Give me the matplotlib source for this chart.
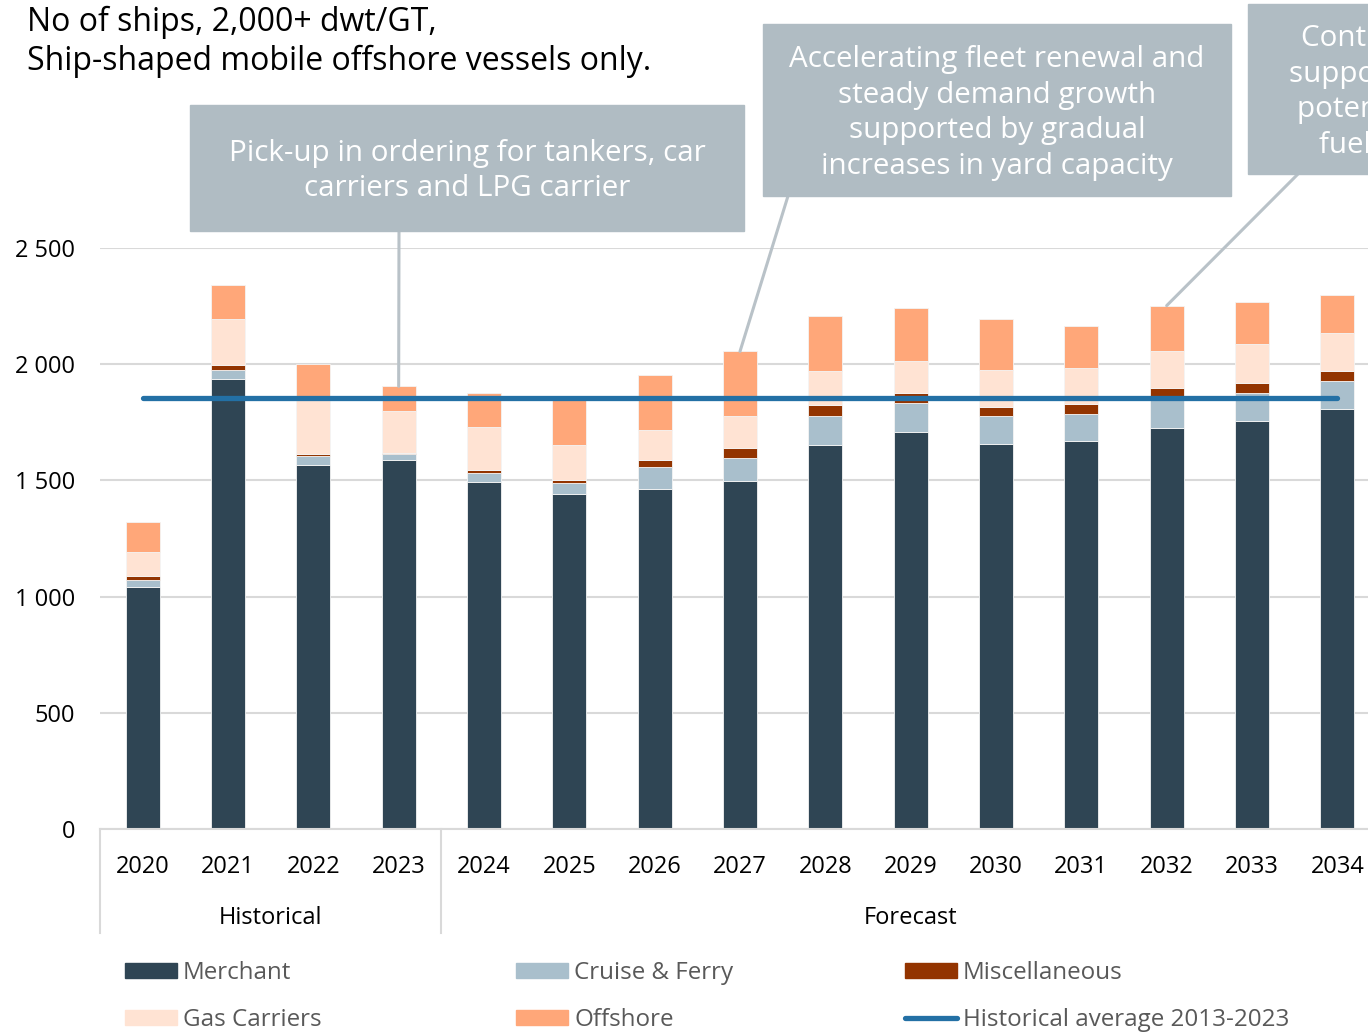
import matplotlib.pyplot as plt
from matplotlib.patches import Rectangle, Patch
from matplotlib.lines import Line2D

plt.rcParams['font.family'] = ['Open Sans', 'DejaVu Sans']

years = ['2020', '2021', '2022', '2023', '2024', '2025', '2026', '2027',
         '2028', '2029', '2030', '2031', '2032', '2033', '2034']
merchant = [1041, 1935, 1566, 1589, 1495, 1441, 1463, 1497, 1652, 1708, 1658, 1670, 1727, 1756, 1809]
cruise = [29, 40, 40, 25, 38, 46, 95, 99, 126, 124, 119, 114, 132, 120, 119]
misc = [19, 20, 9, 5, 12, 15, 30, 43, 46, 43, 40, 46, 40, 44, 44]
gas = [104, 200, 245, 178, 186, 150, 127, 139, 148, 139, 160, 154, 158, 168, 162]
offshore = [127, 146, 140, 108, 144, 195, 238, 277, 235, 226, 218, 180, 195, 180, 164]
hist_avg = 1855
yticks = [0, 500, 1000, 1500, 2000, 2500]
ytick_labels = ['0', '500', '1 000', '1 500', '2 000', '2 500']

c_merchant = '#2f4554'
c_cruise = '#a9bfcc'
c_misc = '#933400'
c_gas = '#ffe3d3'
c_off = '#ffa779'
c_line = '#2370a5'
c_box = '#b0bcc3'
c_conn = '#b9c2c8'

W, H = 1368, 1032
fig = plt.figure(figsize=(W / 100, H / 100), dpi=100)
ax = fig.add_axes([100 / W, (H - 829) / H, 1280 / W, 581 / H])

x = list(range(len(years)))
bottom = [0] * len(years)
for vals, col, name in [(merchant, c_merchant, 'Merchant'), (cruise, c_cruise, 'Cruise & Ferry'),
                        (misc, c_misc, 'Miscellaneous'), (gas, c_gas, 'Gas Carriers'),
                        (offshore, c_off, 'Offshore')]:
    ax.bar(x, vals, width=0.4, bottom=bottom, color=col, edgecolor='#f4f4f4', linewidth=0.6,
           label=name, zorder=2)
    bottom = [b + v for b, v in zip(bottom, vals)]
totals = bottom

ax.plot([0, len(years) - 1], [hist_avg, hist_avg], color=c_line, lw=3.8,
        solid_capstyle='round', zorder=3)

ax.set_xlim(-0.5, len(years) - 0.5)
ax.set_ylim(0, 2500)
ax.set_yticks(yticks)
ax.set_yticklabels(ytick_labels)
ax.set_xticks(x)
ax.set_xticklabels(years)
ax.tick_params(axis='y', length=0, pad=18, labelsize=17)
ax.tick_params(axis='x', length=0, pad=19, labelsize=17)
ax.yaxis.grid(True, color='#d9d9d9', lw=1.5, zorder=0)
ax.set_axisbelow(True)
for s in ['top', 'right', 'left']:
    ax.spines[s].set_visible(False)
ax.spines['bottom'].set_color('#d9d9d9')
ax.spines['bottom'].set_linewidth(1.5)

# category separators and group labels
sep_y = -(933 - 829) / 581
for xs in [-0.5, 3.5]:
    ax.plot([xs, xs], [0, sep_y], transform=ax.get_xaxis_transform(), color='#d9d9d9',
            lw=1.5, clip_on=False)
lab_y = -(918 - 829) / 581
ax.text(1.5, lab_y, 'Historical', transform=ax.get_xaxis_transform(), ha='center',
        va='center', fontsize=17)
ax.text(9.0, lab_y, 'Forecast', transform=ax.get_xaxis_transform(), ha='center',
        va='center', fontsize=17)

# title
fig.text(27 / W, 1 - 6 / H, 'No of ships, 2,000+ dwt/GT,\nShip-shaped mobile offshore vessels only.',
         ha='left', va='top', fontsize=23, linespacing=1.2)

# annotation boxes
def callout(x0, y0, x1, y1, text, bar_i, anchor, tx=None):
    fig.patches.append(Rectangle((x0 / W, 1 - y1 / H), (x1 - x0) / W, (y1 - y0) / H,
                                 transform=fig.transFigure, color=c_box, zorder=1))
    if tx is None:
        tx = (x0 + x1) / 2
    fig.text(tx / W, 1 - ((y0 + y1) / 2 + 3) / H, text, ha='center', va='center',
             color='white', fontsize=21.3, linespacing=1.3)
    ax.annotate('', xy=(bar_i, totals[bar_i]), xytext=(anchor[0], H - anchor[1]),
                textcoords='figure pixels', annotation_clip=False,
                arrowprops=dict(arrowstyle='-', color=c_conn, lw=2.2, shrinkA=0, shrinkB=0))

callout(190, 105, 744, 231, 'Pick-up in ordering for tankers, car\ncarriers and LPG carrier', 3, (399, 231))
callout(763, 24, 1231, 196, 'Accelerating fleet renewal and\nsteady demand growth\nsupported by gradual\nincreases in yard capacity', 7, (788, 196))
callout(1248, 4, 1750, 174, 'Continued high ordering level\nsupported by fleet renewal and\npotential uptake of alternative\nfuels and green technology', 12, (1298, 174), tx=1505)

# legend, three columns
handles = [Patch(color=c_merchant), Patch(color=c_gas), Patch(color=c_cruise),
           Patch(color=c_off), Patch(color=c_misc),
           Line2D([], [], color=c_line, lw=3.8, solid_capstyle='round')]
names = ['Merchant', 'Gas Carriers', 'Cruise & Ferry', 'Offshore', 'Miscellaneous',
         'Historical average 2013-2023']
for i, xl in enumerate([125, 516, 905]):
    leg = fig.legend(handles[2 * i:2 * i + 2], names[2 * i:2 * i + 2], loc='upper left',
                     bbox_to_anchor=(xl / W, 1 - 961 / H), frameon=False, fontsize=17.4,
                     handlelength=2.15, handleheight=0.62, handletextpad=0.25,
                     labelspacing=0.95, borderpad=0, borderaxespad=0, labelcolor='#595959')

fig.savefig('out.png', dpi=100)
